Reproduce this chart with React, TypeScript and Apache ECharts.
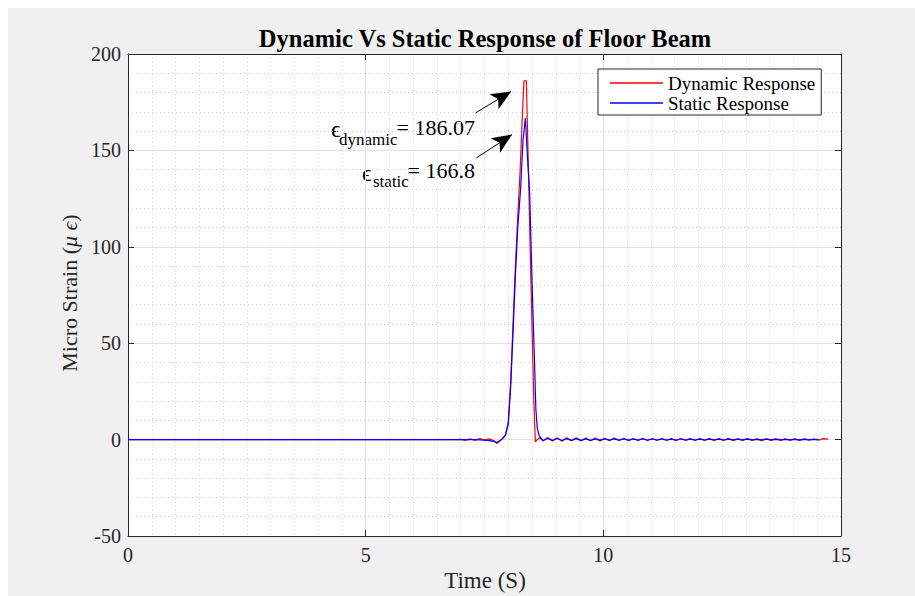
import React, { useEffect, useRef } from 'react';
import * as echarts from 'echarts';

const FONT = '"Liberation Serif", "Times New Roman", "DejaVu Serif", serif';

const titleText = 'Dynamic Vs Static Response of Floor Beam';
const xLabelText = 'Time (S)';
const yLabelMain = 'Micro Strain (';
const yLabelMu = '\u03bc \u03f5';
const yLabelEnd = ')';
const seriesNames = ['Dynamic Response', 'Static Response'];

const xRange = [0, 15];
const xInterval = 5;
const yRange = [-50, 200];
const yInterval = 50;

// Dynamic response (time s, micro strain)
const dynamicResponse: [number, number][] = [
  [0, 0], [6.9, 0], [7.0, 0.1], [7.1, -0.4], [7.2, 0.4], [7.3, -0.4], [7.4, 0.5], [7.5, -0.3],
  [7.6, 0.4], [7.7, -0.6], [7.76, -2.0], [7.82, -0.8], [7.88, 0.6], [7.94, 2.5], [8.0, 9],
  [8.05, 30], [8.1, 60], [8.15, 90], [8.2, 116], [8.25, 140], [8.3, 170], [8.33, 186.07],
  [8.38, 186.07], [8.42, 145], [8.46, 100], [8.5, 58], [8.54, 18], [8.57, -1.2], [8.62, 0.2],
  [8.68, 1.3],
  [8.73, -0.8], [8.83, 1.1], [8.93, -0.7], [9.03, 1.0], [9.13, -0.8], [9.23, 0.9], [9.33, -0.6],
  [9.43, 0.9], [9.53, -0.7], [9.63, 0.8], [9.73, -0.6], [9.83, 0.8], [9.93, -0.7], [10.03, 0.7],
  [10.13, -0.6], [10.23, 0.8], [10.33, -0.5], [10.43, 0.7], [10.53, -0.6], [10.63, 0.6],
  [10.73, -0.5], [10.83, 0.7], [10.93, -0.6], [11.03, 0.6], [11.13, -0.5], [11.23, 0.6],
  [11.33, -0.5], [11.43, 0.5], [11.53, -0.6], [11.63, 0.6], [11.73, -0.4], [11.83, 0.5],
  [11.93, -0.5], [12.03, 0.6], [12.13, -0.4], [12.23, 0.5], [12.33, -0.5], [12.43, 0.5],
  [12.53, -0.4], [12.63, 0.5], [12.73, -0.5], [12.83, 0.4], [12.93, -0.4], [13.03, 0.5],
  [13.13, -0.4], [13.23, 0.4], [13.33, -0.5], [13.43, 0.4], [13.53, -0.4], [13.63, 0.5],
  [13.73, -0.4], [13.83, 0.4], [13.93, -0.3], [14.03, 0.4], [14.13, -0.4], [14.23, 0.4],
  [14.33, -0.3], [14.43, 0.3], [14.53, -0.3], [14.63, 0.5], [14.73, 0.2],
];

// Static response (time s, micro strain)
const staticResponse: [number, number][] = [
  [0, 0], [7.3, 0], [7.4, -0.1], [7.5, -0.3], [7.6, -0.5], [7.7, -0.9], [7.76, -1.5],
  [7.82, -0.6], [7.88, 0.5], [7.94, 2.2], [8.0, 8], [8.05, 27], [8.1, 55], [8.15, 85],
  [8.2, 110], [8.26, 130], [8.31, 155], [8.36, 166.8], [8.4, 148], [8.45, 128], [8.5, 82],
  [8.55, 42], [8.58, 16], [8.61, 6], [8.65, 2], [8.69, 0.4],
  [8.73, -0.5], [8.83, 0.6], [8.93, -0.4], [9.03, 0.6], [9.13, -0.5], [9.23, 0.5], [9.33, -0.4],
  [9.43, 0.5], [9.53, -0.4], [9.63, 0.4], [9.73, -0.4], [9.83, 0.4], [9.93, -0.3], [10.03, 0.4],
  [10.13, -0.3], [10.23, 0.4], [10.33, -0.3], [10.43, 0.3], [10.53, -0.3], [10.63, 0.3],
  [10.73, -0.3], [10.83, 0.3], [10.93, -0.2], [11.03, 0.3], [11.13, -0.2], [11.23, 0.3],
  [11.33, -0.2], [11.43, 0.2], [11.53, -0.2], [11.63, 0.3], [11.73, -0.2], [11.83, 0.2],
  [11.93, -0.2], [12.03, 0.2], [12.13, -0.2], [12.23, 0.2], [12.33, -0.1], [12.43, 0.2],
  [12.53, -0.2], [12.63, 0.2], [12.73, -0.1], [12.83, 0.2], [12.93, -0.1], [13.03, 0.2],
  [13.13, -0.1], [13.23, 0.1], [13.33, -0.1], [13.43, 0.2], [13.53, -0.1], [13.63, 0.1],
  [13.73, -0.1], [13.83, 0.1], [13.93, -0.1], [14.03, 0.1], [14.13, -0.1], [14.23, 0.1],
  [14.33, -0.1], [14.43, 0.1], [14.53, 0.0],
];

// Annotation arrows (data coordinates: tail -> head)
const dynamicArrow: [number, number][] = [[7.31, 169.4], [8.06, 180.6]];
const staticArrow: [number, number][] = [[7.33, 146.1], [8.08, 158.2]];
const dynamicPeakText = '= 186.07';
const staticPeakText = '= 166.8';

export default function App() {
  const ref = useRef<HTMLDivElement>(null);

  useEffect(() => {
    document.documentElement.style.overflow = 'hidden';
    const chart = echarts.init(ref.current!, undefined, { renderer: 'svg', width: 907, height: 588 });

    const axisColor = '#262626';
    const majorGrid = { show: true, lineStyle: { color: '#e2e2e2', width: 1, type: 'solid' as const } };
    const minorGrid = { show: true, lineStyle: { color: '#cdcdcd', width: 1, type: [1, 3] as any } };
    const tick = { show: true, inside: true, length: 6, lineStyle: { color: axisColor, width: 1 } };
    const line = { show: true, onZero: false, lineStyle: { color: axisColor, width: 1 } };
    const label = { color: axisColor, fontSize: 20, fontFamily: FONT };

    const text = (x: number, y: number, t: string, size: number, align = 'left', extra: any = {}) => ({
      type: 'text',
      x,
      y,
      silent: true,
      ...extra,
      style: {
        text: t,
        font: `${size}px ${FONT}`,
        fill: extra.fill || '#000',
        align,
        verticalAlign: 'middle',
      },
    });

    chart.setOption({
      animation: false,
      backgroundColor: '#f0f0f0',
      grid: { left: 120, top: 46, width: 713, height: 482, show: true, backgroundColor: '#ffffff', borderWidth: 0 },
      xAxis: [
        {
          type: 'value', min: xRange[0], max: xRange[1], interval: xInterval, position: 'bottom',
          axisLine: line, axisTick: tick,
          axisLabel: { ...label, margin: 9 },
          splitLine: majorGrid,
          minorTick: { show: false, splitNumber: 10 },
          minorSplitLine: minorGrid,
        },
        {
          type: 'value', min: xRange[0], max: xRange[1], interval: xInterval, position: 'top',
          axisLine: line, axisTick: tick, axisLabel: { show: false }, splitLine: { show: false },
        },
      ],
      yAxis: [
        {
          type: 'value', min: yRange[0], max: yRange[1], interval: yInterval, position: 'left',
          axisLine: line, axisTick: tick,
          axisLabel: { ...label, margin: 7 },
          splitLine: majorGrid,
          minorTick: { show: false, splitNumber: 5 },
          minorSplitLine: minorGrid,
        },
        {
          type: 'value', min: yRange[0], max: yRange[1], interval: yInterval, position: 'right',
          axisLine: line, axisTick: tick, axisLabel: { show: false }, splitLine: { show: false },
        },
      ],
      legend: {
        show: true,
        orient: 'vertical',
        left: 590,
        top: 61,
        backgroundColor: '#ffffff',
        borderColor: axisColor,
        borderWidth: 1,
        borderRadius: 0,
        padding: [4, 6, 2, 12],
        itemGap: 0,
        itemWidth: 53,
        itemHeight: 1.5,
        icon: 'rect',
        selectedMode: false,
        textStyle: { fontSize: 19, fontFamily: FONT, color: '#000', lineHeight: 20 },
        data: seriesNames,
      },
      series: [
        {
          name: seriesNames[0],
          type: 'line',
          data: dynamicResponse,
          color: '#ff0000',
          symbol: 'none',
          lineStyle: { color: '#ff0000', width: 1.2 },
          xAxisIndex: 0,
          yAxisIndex: 0,
          silent: true,
          markLine: {
            silent: true,
            symbol: ['none', 'arrow'],
            symbolSize: [13, 20],
            label: { show: false },
            lineStyle: { color: '#000', width: 1, type: 'solid' },
            emphasis: { disabled: true },
            data: [
              [{ coord: dynamicArrow[0] }, { coord: dynamicArrow[1] }],
              [{ coord: staticArrow[0] }, { coord: staticArrow[1] }],
            ],
          },
        },
        {
          name: seriesNames[1],
          type: 'line',
          data: staticResponse,
          color: '#0000ff',
          symbol: 'none',
          lineStyle: { color: '#0000ff', width: 1.2 },
          xAxisIndex: 0,
          yAxisIndex: 0,
          silent: true,
        },
      ],
      graphic: [
        {
          type: 'text', x: 477, y: 30, silent: true,
          style: { text: titleText, font: `bold 24.5px ${FONT}`, fill: '#000', align: 'center', verticalAlign: 'middle' },
        },
        text(477, 572, xLabelText, 23, 'center', { fill: axisColor }),
        {
          type: 'text', x: 61, y: 285, rotation: Math.PI / 2, silent: true,
          style: {
            text: `{a|${yLabelMain}}{b|${yLabelMu}}{a|${yLabelEnd}}`,
            align: 'center',
            verticalAlign: 'middle',
            rich: {
              a: { font: `22px ${FONT}`, fill: axisColor },
              b: { font: `italic 22px ${FONT}`, fill: axisColor },
            },
          },
        },
        text(323, 121, '\u03f5', 24),
        text(331, 131, 'dynamic', 17),
        text(467, 119, dynamicPeakText, 22, 'right'),
        text(354, 165, '\u03f5', 24),
        text(365, 173, 'static', 17),
        text(467, 162, staticPeakText, 22, 'right'),
      ],
    });

    return () => chart.dispose();
  }, []);

  return (
    <div
      ref={ref}
      style={{ position: 'fixed', left: 8, top: 8, width: 907, height: 588, background: '#f0f0f0' }}
    />
  );
}
